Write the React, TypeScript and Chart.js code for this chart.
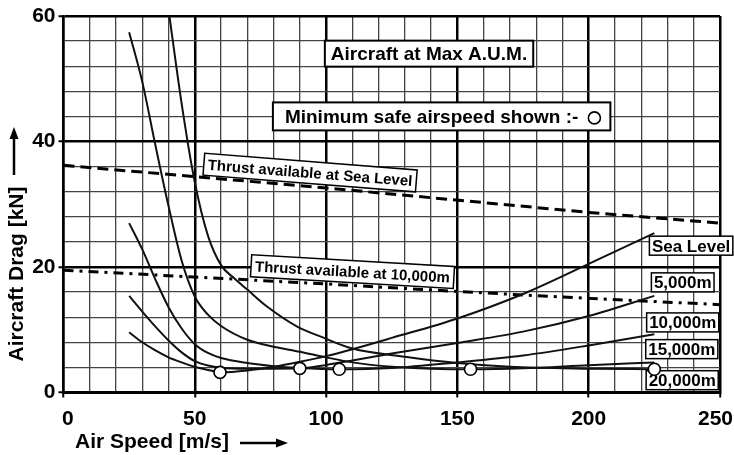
import React, { useEffect, useRef } from 'react';
import { Chart, registerables } from 'chart.js';

Chart.register(...registerables);

const FONT = '"Liberation Sans", Arial, Helvetica, sans-serif';

// Axis tick labels
const xTickLabels = [0, 50, 100, 150, 200, 250];
const yTickLabels = [0, 20, 40, 60];

// Drag curves (air speed m/s -> drag kN)
const seaLevelSpeed = [25, 30, 35, 40, 45, 50, 55, 60, 70, 80, 90, 100, 110, 125, 150, 175, 200, 225];
const seaLevelDrag = [9.6, 8.0, 6.7, 5.6, 4.8, 4.1, 3.6, 3.2, 3.5, 4.1, 4.9, 5.8, 6.9, 8.7, 11.8, 15.7, 20.5, 25.4];

const alt5000Speed = [25, 30, 35, 40, 45, 50, 55, 60, 70, 80, 90, 100, 110, 125, 150, 175, 200, 225];
const alt5000Drag = [15.4, 12.9, 10.5, 8.3, 6.4, 5.0, 4.3, 3.95, 3.8, 3.8, 3.85, 4.4, 5.1, 6.2, 7.9, 9.7, 12.2, 15.4];

const alt10000Speed = [25, 30, 35, 40, 45, 50, 55, 60, 70, 80, 90, 105, 125, 150, 175, 200, 225];
const alt10000Drag = [27.0, 22.8, 18.0, 13.6, 10.2, 7.7, 6.3, 5.5, 4.7, 4.2, 3.9, 3.7, 3.9, 4.8, 5.9, 7.5, 9.3];

const alt15000Speed = [25, 30, 35, 40, 45, 50, 55, 60, 70, 80, 90, 100, 110, 125, 140, 155, 175, 200, 225];
const alt15000Drag = [57.4, 49.5, 39.4, 29.7, 21.0, 15.3, 12.4, 10.6, 8.4, 7.3, 6.5, 5.6, 4.8, 4.1, 3.8, 3.7, 3.85, 4.35, 4.8];

const alt20000Speed = [40, 45, 50, 55, 60, 65, 70, 77.5, 89, 98, 110, 130, 150, 170, 200, 225];
const alt20000Drag = [61.0, 46.0, 33.5, 25.0, 20.3, 18.2, 16.4, 13.7, 10.5, 8.9, 7.0, 5.7, 4.7, 4.1, 3.8, 3.7];

// Minimum safe airspeed markers
const minSafeSpeed = [59.6, 90, 105, 155, 225];
const minSafeDrag = [3.2, 3.85, 3.7, 3.7, 3.7];

// Thrust available
const thrustSeaLevelSpeed = [0, 100, 200, 250];
const thrustSeaLevel = [36.2, 32.6, 28.7, 27.0];
const thrust10000Speed = [0, 100, 150, 200, 250];
const thrust10000 = [19.5, 17.3, 16.1, 15.0, 14.0];

const curveLabels = ['Sea Level', '5,000m', '10,000m', '15,000m', '20,000m'];

const pts = (xs: number[], ys: number[]) => xs.map((x, i) => ({ x, y: ys[i] }));

function drawBox(
  ctx: CanvasRenderingContext2D, cx: number, cy: number, text: string,
  size: number, padX: number, h: number, lw: number, angle = 0
) {
  ctx.save();
  ctx.translate(cx, cy);
  ctx.rotate(angle);
  ctx.font = `bold ${size}px ${FONT}`;
  const w = ctx.measureText(text).width + 2 * padX;
  ctx.fillStyle = '#fff';
  ctx.fillRect(-w / 2, -h / 2, w, h);
  ctx.lineWidth = lw;
  ctx.strokeStyle = '#000';
  ctx.strokeRect(-w / 2, -h / 2, w, h);
  ctx.fillStyle = '#000';
  ctx.textAlign = 'center';
  ctx.textBaseline = 'alphabetic';
  ctx.fillText(text, 0, size * 0.358);
  ctx.restore();
}

const annotationPlugin = {
  id: 'annotations',
  beforeDatasetsDraw(chart: any) {
    const ctx: CanvasRenderingContext2D = chart.ctx;
    const xs = chart.scales.x;
    const ys = chart.scales.y;
    const P = (v: number, d: number) => [xs.getPixelForValue(v), ys.getPixelForValue(d)];

    // Title box
    let [cx, cy] = P(139.2, 54.0);
    drawBox(ctx, cx, cy, 'Aircraft at Max A.U.M.', 19, 6, 26, 2);

    // Minimum safe airspeed box with circle
    [cx, cy] = P(144, 44.0);
    ctx.save();
    ctx.font = `bold 19px ${FONT}`;
    const txt = 'Minimum safe airspeed shown :-';
    const tw = ctx.measureText(txt).width;
    const gap = 10, r = 6;
    const w = tw + gap + 2 * r + 22;
    const h = 28;
    ctx.fillStyle = '#fff';
    ctx.fillRect(cx - w / 2, cy - h / 2, w, h);
    ctx.lineWidth = 2;
    ctx.strokeStyle = '#000';
    ctx.strokeRect(cx - w / 2, cy - h / 2, w, h);
    ctx.fillStyle = '#000';
    ctx.textAlign = 'left';
    ctx.textBaseline = 'alphabetic';
    const left = cx - w / 2 + 12;
    ctx.fillText(txt, left, cy + 19 * 0.358);
    ctx.beginPath();
    ctx.arc(left + tw + gap + r, cy + 1.5, r, 0, Math.PI * 2);
    ctx.fillStyle = '#fff';
    ctx.fill();
    ctx.lineWidth = 1.6;
    ctx.stroke();
    ctx.restore();

    // Thrust labels (rotated)
    [cx, cy] = P(93.9, 35.05);
    drawBox(ctx, cx, cy, 'Thrust available at Sea Level', 15, 4, 22, 1.5, (4.5 * Math.PI) / 180);
    [cx, cy] = P(110.05, 19.26);
    drawBox(ctx, cx, cy, 'Thrust available at 10,000m', 15, 4, 22, 1.5, (3.3 * Math.PI) / 180);

    // Curve labels at right
    const labelPos: [number, number][] = [
      [239.0, 23.4], [235.8, 17.55], [235.8, 11.17], [235.45, 6.91], [235.6, 1.96],
    ];
    curveLabels.forEach((t, i) => {
      const [lx, ly] = P(labelPos[i][0], labelPos[i][1]);
      drawBox(ctx, lx, ly, t, 17, 2.5, 19, 1.5);
    });
  },
  afterDraw(chart: any) {
    const ctx: CanvasRenderingContext2D = chart.ctx;
    const xs = chart.scales.x;
    const area = chart.chartArea;
    ctx.save();
    ctx.fillStyle = '#000';
    ctx.strokeStyle = '#000';
    // x tick labels
    ctx.font = `bold 21px ${FONT}`;
    ctx.textAlign = 'left';
    ctx.textBaseline = 'alphabetic';
    xTickLabels.forEach((v) => {
      const s = String(v);
      const w = ctx.measureText(s).width;
      let l = xs.getPixelForValue(v) - w / 2;
      l = Math.max(l, area.left - 1.5);
      l = Math.min(l, chart.width - 1 - w);
      ctx.fillText(s, l, 425);
    });

    // x title + arrow
    ctx.font = `bold 21px ${FONT}`;
    ctx.fillText('Air Speed [m/s]', 75, 448);
    ctx.lineWidth = 2.5;
    ctx.beginPath();
    ctx.moveTo(240, 443);
    ctx.lineTo(278, 443);
    ctx.stroke();
    ctx.beginPath();
    ctx.moveTo(288, 443);
    ctx.lineTo(276, 438.5);
    ctx.lineTo(276, 447.5);
    ctx.closePath();
    ctx.fill();

    // y title + arrow
    ctx.save();
    ctx.translate(22.5, 274);
    ctx.rotate(-Math.PI / 2);
    ctx.textAlign = 'center';
    ctx.fillText('Aircraft Drag [kN]', 0, 0);
    ctx.restore();
    ctx.beginPath();
    ctx.moveTo(14, 175);
    ctx.lineTo(14, 137);
    ctx.stroke();
    ctx.beginPath();
    ctx.moveTo(14, 127);
    ctx.lineTo(9.5, 139);
    ctx.lineTo(18.5, 139);
    ctx.closePath();
    ctx.fill();
    ctx.restore();
  },
};

export default function App() {
  const ref = useRef<HTMLCanvasElement>(null);
  useEffect(() => {
    document.body.style.margin = '0';
    const canvas = ref.current!;
    const curve = (xs: number[], ys: number[]) => ({
      data: pts(xs, ys),
      borderColor: '#111',
      borderWidth: 2,
      pointRadius: 0,
      cubicInterpolationMode: 'monotone' as const,
      fill: false,
    });
    const majorX = (c: any) => c.tick && c.tick.value % 50 === 0;
    const majorY = (c: any) => c.tick && c.tick.value % 20 === 0;
    const chart = new Chart(canvas, {
      type: 'line',
      data: {
        datasets: [
          {
            data: pts(minSafeSpeed, minSafeDrag),
            showLine: false,
            pointRadius: 6,
            pointHoverRadius: 6,
            pointBackgroundColor: '#fff',
            pointBorderColor: '#000',
            pointBorderWidth: 1.6,
          } as any,
          curve(seaLevelSpeed, seaLevelDrag),
          curve(alt5000Speed, alt5000Drag),
          curve(alt10000Speed, alt10000Drag),
          curve(alt15000Speed, alt15000Drag),
          curve(alt20000Speed, alt20000Drag),
          {
            data: pts(thrustSeaLevelSpeed, thrustSeaLevel),
            borderColor: '#000',
            borderWidth: 3,
            borderDash: [11, 6],
            pointRadius: 0,
            tension: 0,
          },
          {
            data: pts(thrust10000Speed, thrust10000),
            borderColor: '#000',
            borderWidth: 3,
            borderDash: [10, 6, 3, 6],
            pointRadius: 0,
            tension: 0,
          },
        ],
      },
      options: {
        responsive: false,
        animation: false,
        devicePixelRatio: 1,
        events: [],
        layout: { padding: { top: 16, right: 14, left: 0, bottom: 0 } },
        plugins: { legend: { display: false }, tooltip: { enabled: false } },
        scales: {
          x: {
            type: 'linear',
            min: 0,
            max: 250,
            ticks: { stepSize: 10, display: false, autoSkip: false },
            grid: {
              color: (c: any) => (majorX(c) ? '#000' : '#444'),
              lineWidth: (c: any) => (majorX(c) ? 2.5 : 1.3),
              tickColor: (c: any) => (majorX(c) ? '#000' : 'rgba(0,0,0,0)'),
              tickLength: 5,
              tickWidth: 2,
            },
            border: { display: true, color: '#000', width: 3 },
            afterFit: (s: any) => {
              s.height = 62.5;
              s.paddingLeft = 0;
              s.paddingRight = 0;
            },
          },
          y: {
            type: 'linear',
            min: 0,
            max: 60,
            ticks: {
              stepSize: 4,
              autoSkip: false,
              padding: 3,
              color: '#000',
              font: { family: FONT, size: 21, weight: 'bold' },
              callback: (v: any) => (yTickLabels.includes(Number(v)) ? String(v) : ''),
            },
            grid: {
              color: (c: any) => (majorY(c) ? '#000' : '#444'),
              lineWidth: (c: any) => (majorY(c) ? 2.5 : 1.3),
              tickColor: (c: any) => (majorY(c) ? '#000' : 'rgba(0,0,0,0)'),
              tickLength: 5,
              tickWidth: 2,
            },
            border: { display: true, color: '#000', width: 2.5 },
            afterFit: (s: any) => {
              s.width = 63.5;
              s.paddingTop = 0;
              s.paddingBottom = 0;
            },
          },
        },
      } as any,
      plugins: [annotationPlugin],
    });
    return () => chart.destroy();
  }, []);
  return <canvas ref={ref} width={734} height={455} style={{ display: 'block' }} />;
}
